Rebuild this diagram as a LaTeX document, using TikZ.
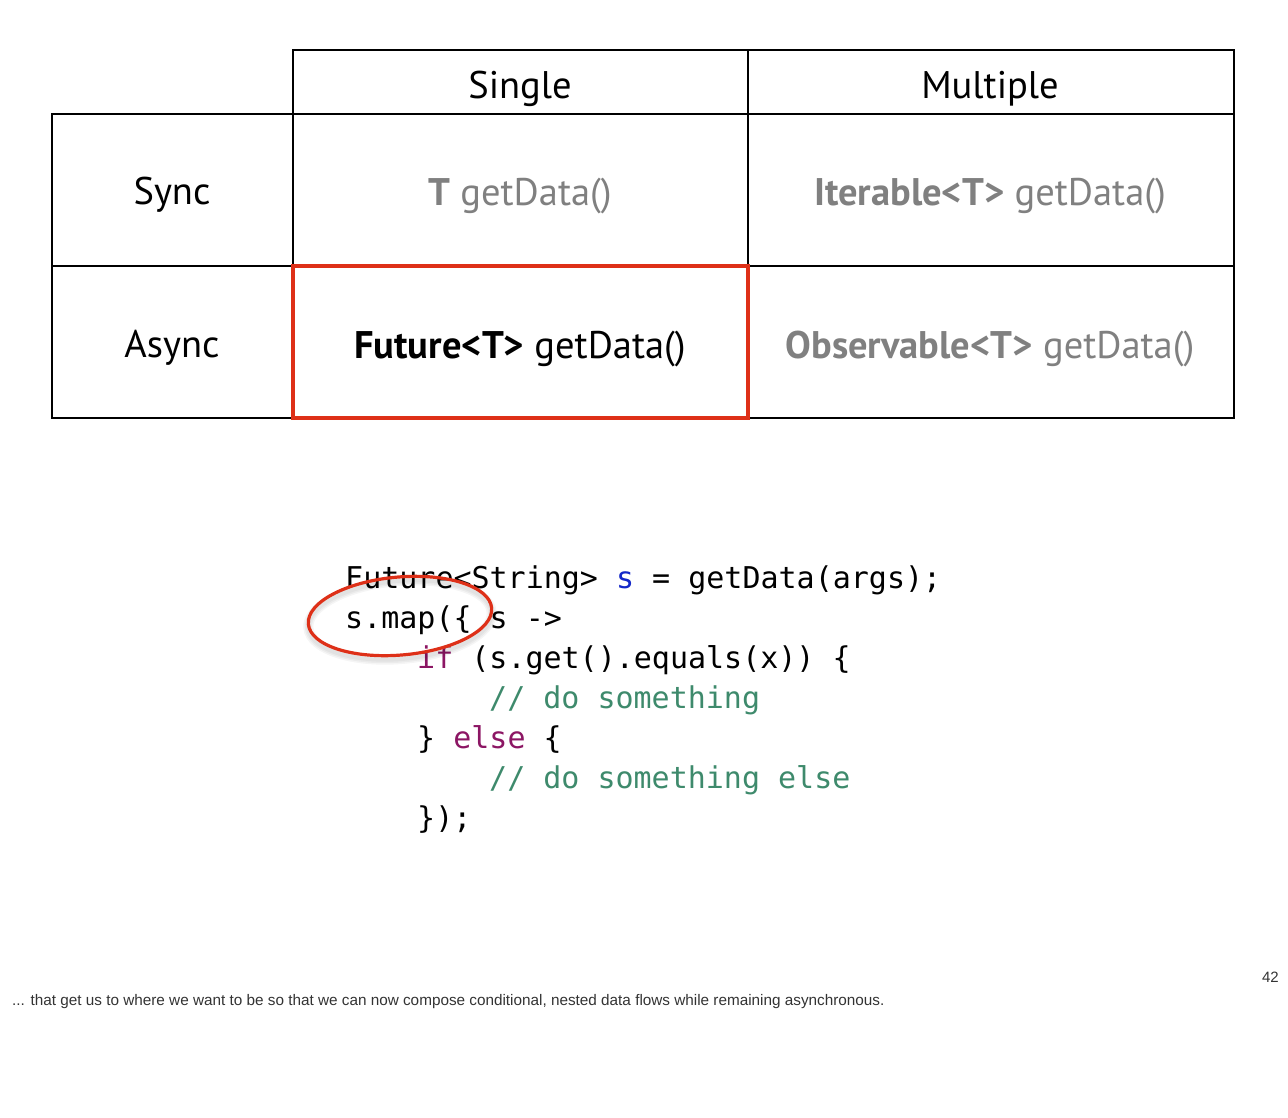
\documentclass[tikz,border=0pt]{standalone}
\usepackage{fontspec}
\setmainfont{PT Sans}
\newfontfamily\codefont{DejaVu Sans Mono}
\newfontfamily\notefont{Liberation Sans}
\usetikzlibrary{shapes.geometric}
\definecolor{hlred}{RGB}{222,48,24}
\definecolor{dimgray}{RGB}{128,128,128}
\definecolor{kwpurple}{RGB}{140,22,100}
\definecolor{cmgreen}{RGB}{62,138,108}
\definecolor{varblue}{RGB}{20,40,200}
\tikzset{
  grid/.style={line width=2.6pt, line cap=rect},
  hdr/.style={font=\fontsize{38.5}{40}\selectfont, text=black},
  entry/.style={font=\fontsize{38.5}{40}\selectfont},
  codeline/.style={anchor=base west, inner sep=0pt, font=\codefont\fontsize{30}{32}\selectfont},
}
\begin{document}
\begin{tikzpicture}[x=1pt,y=1pt]
\useasboundingbox (0,0) rectangle (1288,-1117);
% table grid
\draw[grid] (293,-50) rectangle (1234,-114);
\draw[grid] (748,-50) -- (748,-114);
\draw[grid] (52,-114) rectangle (1234,-418);
\draw[grid] (52,-266) -- (1234,-266);
\draw[grid] (293,-114) -- (293,-418);
\draw[grid] (748,-114) -- (748,-418);
\draw[hlred, line width=3.4pt] (293,-266) rectangle (748,-418);
% headers
\node[hdr] (single) at (520,-89) {Single};
\node[hdr] (multiple) at (990,-89) {Multiple};
\node[hdr] (sync) at (172,-195) {Sync};
\node[hdr] (async) at (172,-348) {Async};
% entries
\node[entry, text=dimgray] (tget) at (520,-196) {\textbf{T} getData()};
\node[entry, text=dimgray] (iter) at (990,-196) {\textbf{Iterable<T>} getData()};
\node[entry, text=black] (fut) at (520,-349) {\textbf{Future<T>} getData()};
\node[entry, text=dimgray] (obs) at (990,-349) {\textbf{Observable<T>} getData()};
% code
\node[codeline] (c1) at (345,-588) {Future<String> \textcolor{varblue}{s} = getData(args);};
\node[codeline] (c2) at (345,-628) {s.map(\{ s ->};
\node[codeline] (c3) at (417,-668) {\textcolor{kwpurple}{if} (s.get().equals(x)) \{};
\node[codeline, text=cmgreen] (c4) at (489,-708) {// do something};
\node[codeline] (c5) at (417,-748) {\} \textcolor{kwpurple}{else} \{};
\node[codeline, text=cmgreen] (c6) at (489,-788) {// do something else};
\node[codeline] (c7) at (417,-828) {\});};
% highlight ellipse with faint shadow
\foreach \w in {10,7,4}{
  \draw[black, draw opacity=0.04, line width=\w pt, rotate around={5:(400,-620)}] (400,-620) ellipse [x radius=92, y radius=39];
}
\draw[hlred, line width=3.2pt, rotate around={5:(400,-616)}] (400,-616) ellipse [x radius=92, y radius=39];
% footer
\node[anchor=base west, inner sep=0pt, font=\notefont\fontsize{15.3}{17}\selectfont, text=black!80] (note) at (12,-1005) {... that get us to where we want to be so that we can now compose conditional, nested data flows while remaining asynchronous.};
\node[anchor=base east, inner sep=0pt, font=\notefont\fontsize{15}{16}\selectfont, text=black!80] (page) at (1279,-982) {42};
\end{tikzpicture}
\end{document}
